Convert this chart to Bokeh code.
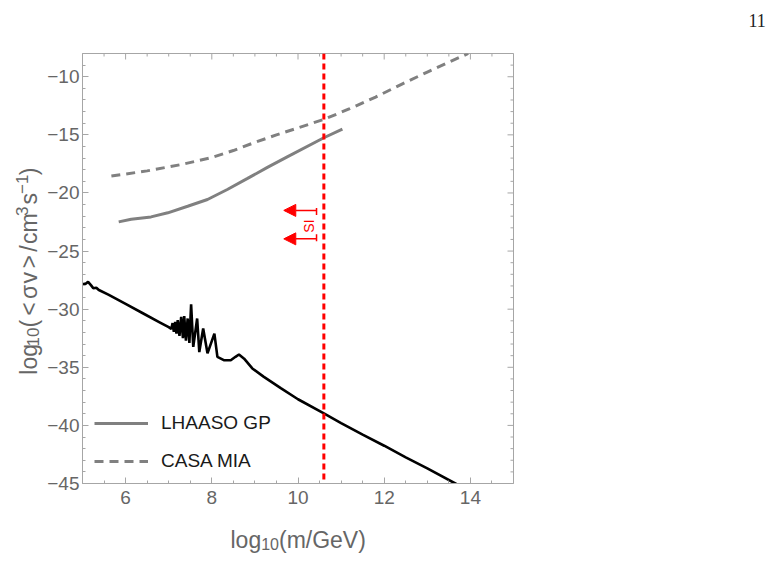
import math

from bokeh.plotting import figure
from bokeh.layouts import column, row
from bokeh.models import (FixedTicker, Range1d, Span, Arrow, NormalHead,
                          Label, Legend, LegendItem)
from bokeh.core.properties import value
from bokeh.embed import file_html
from bokeh.resources import INLINE

# LHAASO galactic-plane limit (solid grey)
lhaaso_x = [5.84, 6.13, 6.59, 6.98, 7.44, 7.90, 8.36, 8.83, 9.29, 9.75, 10.6, 11.03]
lhaaso_y = [-22.49, -22.26, -22.06, -21.71, -21.14, -20.56, -19.70, -18.75, -17.80, -16.89, -15.25, -14.5]

# CASA-MIA limit (dashed grey)
casa_x = [5.67, 6.5, 7.3, 8.0, 8.5, 9.0, 9.5, 10.0, 10.6, 11.2, 11.8, 12.4, 13.0, 13.5, 13.95]
casa_y = [-18.55, -18.1, -17.55, -16.95, -16.35, -15.65, -15.0, -14.4, -13.67, -12.75, -11.75, -10.65, -9.6, -8.75, -8.0]

# predicted annihilation cross section (black)
model_x = [5.0, 5.08, 5.13, 5.2, 5.25, 5.32, 5.38, 5.6, 6.0, 6.4, 6.8, 7.0, 7.06,
           7.09, 7.12, 7.15, 7.18, 7.21, 7.25, 7.29, 7.33, 7.36, 7.40, 7.44, 7.48, 7.52, 7.57,
           7.66, 7.71, 7.80, 7.90, 8.06, 8.13, 8.29, 8.44, 8.55, 8.63, 8.75, 8.94,
           9.2, 9.6, 10.0, 10.6, 11.0, 11.5, 12.0, 12.5, 13.0, 13.65, 13.9]
model_y = [-27.85, -27.8, -27.65, -27.95, -28.2, -28.15, -28.35, -28.75, -29.55, -30.35, -31.15, -31.55, -31.7,
           -31.2, -31.95, -31.1, -32.1, -30.95, -32.3, -30.67, -32.5, -30.6, -32.7, -30.8, -32.9, -29.58, -33.25,
           -30.8, -33.69, -31.67, -33.8, -32.1, -34.1, -34.4, -34.4, -34.1, -33.9, -34.26, -35.1,
           -35.8, -36.8, -37.75, -38.97, -39.8, -40.8, -41.75, -42.75, -43.7, -45.0, -45.5]

# SI mass bound and its annotation
si_mass = 10.6
si_arrow_y = [-21.5, -23.95]
si_arrow_x = [10.43, 9.67]
si_bar_y0 = [-21.3, -23.55]
si_bar_y1 = [-21.9, -24.15]
si_text_pos = (10.25, -22.85)

x_major = [6, 8, 10, 12, 14]
x_minor = [5.5, 6.5, 7, 7.5, 8.5, 9, 9.5, 10.5, 11, 11.5, 12.5, 13, 13.5, 14.5]
y_major = [-45, -40, -35, -30, -25, -20, -15, -10]
y_major_labels = ["\u221245", "\u221240", "\u221235", "\u221230", "\u221225", "\u221220", "\u221215", "\u221210"]
y_minor = [v for v in range(-44, -7) if v % 5 != 0]

X_RANGE = (5, 15)
Y_RANGE = (-45, -8)

FRAME = "#a6a6a6"
LABEL = "#666666"
FONT = "Liberation Sans"

# advance widths (em) of the label glyphs, used to set sub/superscripts
ADV = {"l": 0.222, "o": 0.556, "g": 0.556, "0": 0.556, "1": 0.556, "3": 0.556,
       "(": 0.333, ")": 0.333, "<": 0.584, ">": 0.584, "\u03c3": 0.6, "v": 0.5,
       "/": 0.278, "c": 0.5, "m": 0.833, "s": 0.5, "\u2212": 0.584,
       "G": 0.778, "e": 0.556, "V": 0.667, " ": 0.278}


def text_width(s, size):
    return sum(ADV.get(ch, 0.556) for ch in s) * size


def bare_figure(w, h, xr, yr):
    f = figure(width=w, height=h, x_range=Range1d(*xr), y_range=Range1d(*yr),
               output_backend="svg", toolbar_location=None, title=None,
               x_axis_type=None, y_axis_type=None, min_border=0)
    f.outline_line_color = None
    f.xgrid.visible = False
    f.ygrid.visible = False
    return f


# ---------------- main panel ----------------
p = figure(width=729, height=470, x_range=Range1d(*X_RANGE), y_range=Range1d(*Y_RANGE),
           output_backend="svg", toolbar_location=None, title=None,
           min_border_left=37, min_border_right=260, min_border_top=8, min_border_bottom=32)
p.xgrid.visible = False
p.ygrid.visible = False
p.outline_line_color = FRAME


def style_axis(ax, ticks, minor, labels=None, standoff=5):
    ax.ticker = FixedTicker(ticks=ticks, minor_ticks=minor)
    ax.axis_line_color = FRAME
    ax.major_tick_line_color = FRAME
    ax.minor_tick_line_color = FRAME
    ax.major_tick_in = 6
    ax.major_tick_out = 0
    ax.minor_tick_in = 3
    ax.minor_tick_out = 0
    ax.major_label_text_font = FONT
    ax.major_label_text_color = LABEL
    ax.major_label_text_font_size = "19px"
    ax.major_label_standoff = standoff
    if labels is not None:
        ax.major_label_overrides = {t: s for t, s in zip(ticks, labels)}


style_axis(p.xaxis[0], x_major, x_minor, standoff=7)
style_axis(p.yaxis[0], y_major, y_minor, y_major_labels, standoff=3)

# mirrored ticks on the top and right edges (half of each dash is clipped by the frame)
p.scatter(x_major, [Y_RANGE[1]] * len(x_major), marker="dash", angle=math.pi / 2,
          size=12, line_color=FRAME, line_width=1)
p.scatter(x_minor, [Y_RANGE[1]] * len(x_minor), marker="dash", angle=math.pi / 2,
          size=6, line_color=FRAME, line_width=1)
p.scatter([X_RANGE[1]] * len(y_major), y_major, marker="dash", size=12, line_color=FRAME, line_width=1)
p.scatter([X_RANGE[1]] * len(y_minor), y_minor, marker="dash", size=6, line_color=FRAME, line_width=1)

# curves
r_model = p.line(model_x, model_y, line_color="black", line_width=2.6)
r_lh = p.line(lhaaso_x, lhaaso_y, line_color="#808080", line_width=3)
r_casa = p.line(casa_x, casa_y, line_color="#808080", line_width=3, line_dash="9 6")

# SI bound
p.add_layout(Span(location=si_mass, dimension="height", line_color="red",
                  line_width=3, line_dash="6 4"))
for yy in si_arrow_y:
    p.add_layout(Arrow(end=NormalHead(size=12, fill_color="red", line_color="red", line_width=1),
                       x_start=si_arrow_x[0], y_start=yy, x_end=si_arrow_x[1], y_end=yy,
                       line_color="red", line_width=1.5))
p.segment(x0=[si_arrow_x[0]] * 2, y0=si_bar_y0, x1=[si_arrow_x[0]] * 2, y1=si_bar_y1,
          line_color="red", line_width=1.5)
p.add_layout(Label(x=si_text_pos[0], y=si_text_pos[1], text="SI", angle=math.pi / 2,
                   text_align="center", text_baseline="middle", text_color="red",
                   text_font=FONT, text_font_size="14px"))

legend = Legend(items=[LegendItem(label="LHAASO GP", renderers=[r_lh]),
                       LegendItem(label="CASA MIA", renderers=[r_casa])],
                location=(12, 11), padding=0, spacing=16, glyph_width=54, label_standoff=13,
                border_line_color=None, background_fill_alpha=0,
                label_text_font=FONT, label_text_font_size="19px", label_text_color="#1a1a1a")
p.add_layout(legend)

# ---------------- axis titles with sub/superscripts ----------------
BASE = 23
SCRIPT = 17
SUB = 4
SUP = -7

# (text, size, baseline shift, extra gap after)
ylabel_parts = [("log", BASE, 0, 0), ("10", SCRIPT, SUB, 2), ("(", BASE, 0, 5),
                ("<", BASE, 0, 5), ("\u03c3", BASE, 0, 3), ("v", BASE, 0, 5),
                (">", BASE, 0, 5), ("/", BASE, 0, 2), ("cm", BASE, 0, 0),
                ("3", SCRIPT, SUP, 3), ("s", BASE, 0, 0), ("\u22121", SCRIPT, SUP, 1),
                (")", BASE, 0, 0)]
xlabel_parts = [("log", BASE, 0, 0), ("10", 16, SUB, 0), ("(m/GeV)", BASE, 0, 0)]

# left strip: vertical title, page pixel coordinates
ylab = bare_figure(44, 470, (0, 44), (515, 45))
pos = 396.0
for txt, size, shift, gap in ylabel_parts:
    ylab.text(x=[28 + shift], y=[pos], text=[txt], angle=math.pi / 2,
              text_font=value(FONT), text_font_size=f"{size}px", text_color=LABEL,
              text_align="left", text_baseline="alphabetic")
    pos -= text_width(txt, size) + gap

# bottom strip: horizontal title
xlab = bare_figure(773, 55, (0, 773), (570, 515))
pos = 230.0
for txt, size, shift, gap in xlabel_parts:
    xlab.text(x=[pos], y=[539 + shift], text=[txt],
              text_font=value(FONT), text_font_size=f"{size}px", text_color=LABEL,
              text_align="left", text_baseline="alphabetic")
    pos += text_width(txt, size) + gap

# top strip: page number
top = bare_figure(773, 45, (0, 773), (45, 0))
top.text(x=[748], y=[20], text=["11"], text_font=value("Liberation Serif"),
         text_font_size="18px", text_color="#222222", text_align="left", text_baseline="alphabetic")

layout = column(top, row(ylab, p), xlab)
open("out.html", "w").write(file_html(layout, INLINE))
